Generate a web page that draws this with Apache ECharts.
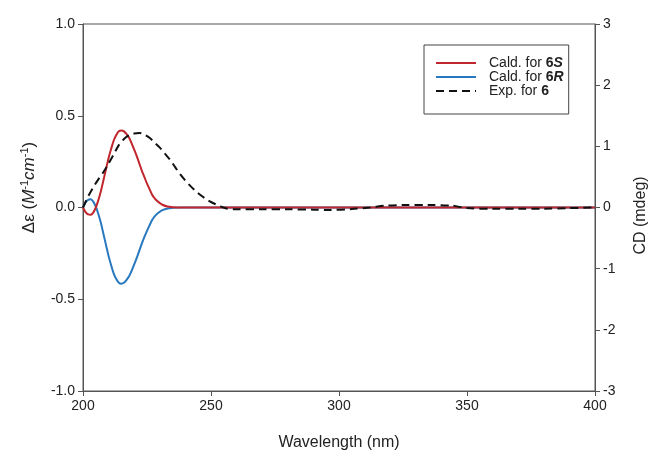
<!DOCTYPE html>
<html>
<head>
<meta charset="utf-8">
<script src="https://cdn.jsdelivr.net/npm/echarts@6/dist/echarts.min.js"></script>
<style>
  html, body { margin: 0; padding: 0; background: #fff; }
  #chart { width: 650px; height: 451px; }
</style>
</head>
<body>
<div id="chart"></div>
<script>
    // 计算 ECD 曲线 (Δε) 与实验 CD (mdeg)
    var calcWl = [200, 201, 202, 203, 204, 205, 206, 207, 208, 209, 210, 211, 212, 213, 214, 215, 216, 217, 218, 219, 220,
        221, 222, 223, 224, 225, 226, 227, 228, 229, 230, 231, 233, 235, 238, 245, 260, 300, 350, 400];
    var calc6S = [0, -0.025, -0.038, -0.04, -0.028, 0.0, 0.04, 0.09, 0.15, 0.21, 0.27, 0.32, 0.365, 0.395, 0.415, 0.42, 0.415, 0.40, 0.38, 0.35, 0.315,
        0.28, 0.24, 0.20, 0.165, 0.13, 0.10, 0.07, 0.05, 0.035, 0.024, 0.015, 0.005, 0.002, 0, 0, 0, 0, 0, 0];
    var calc6R = [0, 0.028, 0.042, 0.045, 0.032, 0.005, -0.035, -0.085, -0.145, -0.205, -0.265, -0.315, -0.36, -0.39, -0.41, -0.415, -0.41, -0.395, -0.375, -0.345, -0.31,
        -0.275, -0.235, -0.195, -0.16, -0.127, -0.097, -0.068, -0.048, -0.034, -0.023, -0.014, -0.005, -0.002, 0, 0, 0, 0, 0, 0];
    var expWl = [200, 202, 204, 206, 208, 210, 212, 214, 216, 218, 220, 222, 224, 226, 228, 230, 232, 234, 236, 238, 240,
        242, 244, 246, 248, 250, 252, 254, 256, 260, 270, 280, 290, 296, 305, 312, 318, 325, 335, 344, 350, 360, 370, 380, 390, 400];
    var expCD = [0.0, 0.18, 0.33, 0.46, 0.58, 0.72, 0.87, 1.02, 1.12, 1.18, 1.21, 1.22, 1.19, 1.14, 1.06, 0.98, 0.88, 0.78, 0.66, 0.54, 0.44,
        0.35, 0.27, 0.2, 0.14, 0.09, 0.05, 0.015, -0.015, -0.03, -0.03, -0.03, -0.035, -0.04, -0.025, 0.0, 0.03, 0.04, 0.04, 0.03, -0.01, -0.02, -0.02, -0.02, -0.01, 0];
    var seriesNames = ['Cald. for 6S', 'Cald. for 6R', 'Exp. for 6'];
    var legendRich = ['{n|Cald. for }{b|6}{bi|S}', '{n|Cald. for }{b|6}{bi|R}', '{n|Exp. for }{b|6}'];
    var leftTicks = ['-1.0', '-0.5', '0.0', '0.5', '1.0'];

    function pairs(xs, ys) {
        var out = [];
        xs.forEach(function(v, k) {
            out.push([v, ys[k]]);
        });
        return out;
    }

    var axisColor = '#555';
    var font = 'Liberation Sans, Arial, sans-serif';

    var chart = echarts.init(document.getElementById('chart'));
    chart.setOption({
        animation: false,
        backgroundColor: '#fff',
        grid: {
            left: 83,
            right: 55,
            top: 24,
            bottom: 60,
            outerBoundsMode: 'none',
            containLabel: false,
            show: true,
            borderColor: axisColor,
            borderWidth: 1
        },
        legend: {
            left: 424,
            top: 45,
            orient: 'vertical',
            padding: [11, 5, 16, 11],
            itemGap: 0,
            itemWidth: 40,
            itemHeight: 13,
            borderColor: '#444',
            borderWidth: 1,
            borderRadius: 0,
            itemStyle: { opacity: 0 },
            data: seriesNames,
            formatter: function(name) {
                return legendRich[seriesNames.indexOf(name)];
            },
            textStyle: {
                fontFamily: font,
                fontSize: 14,
                color: '#222',
                lineHeight: 13,
                padding: [0, 0, 0, 8],
                rich: {
                    n: { fontFamily: font, fontSize: 14, color: '#222', lineHeight: 13 },
                    b: { fontFamily: font, fontSize: 14, fontWeight: 'bold', color: '#222', lineHeight: 13 },
                    bi: { fontFamily: font, fontSize: 14, fontWeight: 'bold', fontStyle: 'italic', color: '#222', lineHeight: 13 }
                }
            }
        },
        xAxis: {
            type: 'value',
            min: 200,
            max: 400,
            interval: 50,
            name: 'Wavelength (nm)',
            nameLocation: 'middle',
            nameGap: 44,
            nameTextStyle: { fontFamily: font, fontSize: 16, color: '#222' },
            axisLine: { onZero: false, lineStyle: { color: axisColor } },
            axisTick: { show: true, inside: false, length: 5, lineStyle: { color: axisColor } },
            axisLabel: { fontFamily: font, fontSize: 14, color: '#222', margin: 8 },
            splitLine: { show: false }
        },
        yAxis: [{
                type: 'value',
                min: -1,
                max: 1,
                interval: 0.5,
                name: '{g|Δε} {n|(}{i|M}{s|-1}{i|cm}{s|-1}{n|)}',
                nameLocation: 'middle',
                nameGap: 44,
                nameTextStyle: {
                    fontFamily: font,
                    fontSize: 17,
                    color: '#222',
                    padding: [0, 0, 0, 40],
                    rich: {
                        g: { fontFamily: font, fontSize: 17, color: '#222' },
                        n: { fontFamily: font, fontSize: 17, color: '#222' },
                        i: { fontFamily: font, fontSize: 17, fontStyle: 'italic', color: '#222' },
                        s: { fontFamily: font, fontSize: 11, color: '#222', padding: [0, 0, 9, 0] }
                    }
                },
                axisLine: { show: true, onZero: false, lineStyle: { color: axisColor } },
                axisTick: { show: true, length: 5, lineStyle: { color: axisColor } },
                axisLabel: {
                    fontFamily: font,
                    fontSize: 14,
                    color: '#222',
                    margin: 8,
                    formatter: function(v) {
                        return leftTicks[Math.round((v + 1) / 0.5)];
                    }
                },
                splitLine: { show: false }
            },
            {
                type: 'value',
                min: -3,
                max: 3,
                interval: 1,
                position: 'right',
                name: 'CD (mdeg)',
                nameLocation: 'middle',
                nameGap: 38,
                nameRotate: 90,
                nameTextStyle: { fontFamily: font, fontSize: 16, color: '#222', padding: [0, 16, 0, 0] },
                axisLine: { show: true, onZero: false, lineStyle: { color: axisColor } },
                axisTick: { show: true, length: 5, lineStyle: { color: axisColor } },
                axisLabel: { fontFamily: font, fontSize: 14, color: '#222', margin: 8 },
                splitLine: { show: false }
            }
        ],
        series: [{
                name: seriesNames[0],
                type: 'line',
                yAxisIndex: 0,
                data: pairs(calcWl, calc6S),
                smooth: 0.3,
                symbol: 'none',
                z: 3,
                lineStyle: { color: '#C0262C', width: 2 },
                itemStyle: { color: '#C0262C' }
            },
            {
                name: seriesNames[1],
                type: 'line',
                yAxisIndex: 0,
                data: pairs(calcWl, calc6R),
                smooth: 0.3,
                symbol: 'none',
                z: 2,
                lineStyle: { color: '#2878C0', width: 2 },
                itemStyle: { color: '#2878C0' }
            },
            {
                name: seriesNames[2],
                type: 'line',
                yAxisIndex: 1,
                data: pairs(expWl, expCD),
                smooth: 0.3,
                symbol: 'none',
                z: 4,
                lineStyle: { color: '#111', width: 2, type: [8, 5] },
                itemStyle: { color: '#111' }
            }
        ]
    });
</script>
</body>
</html>
